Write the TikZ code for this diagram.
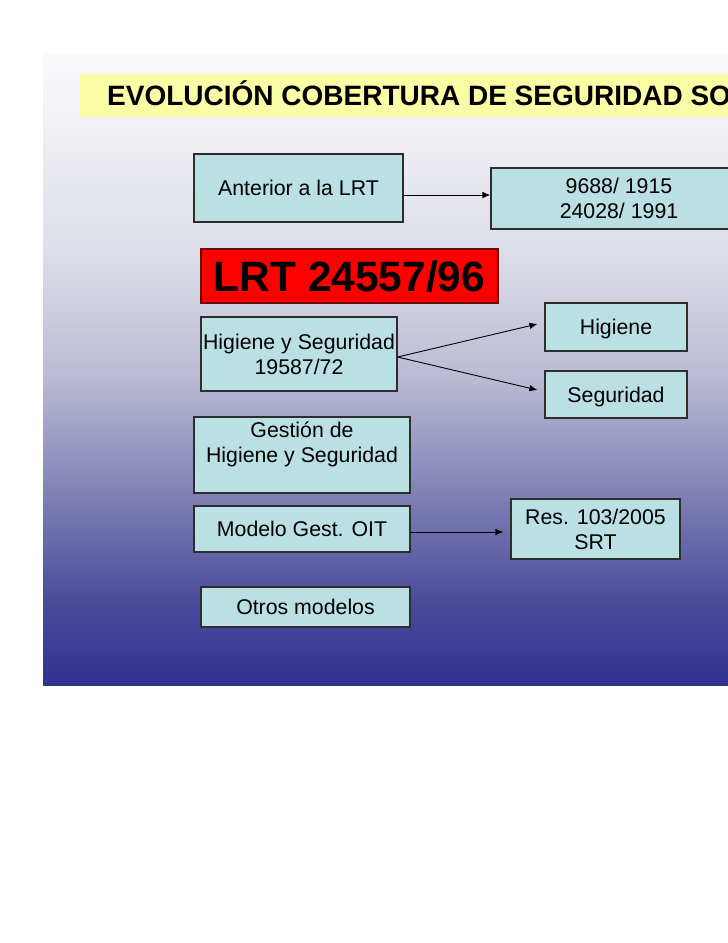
\documentclass[tikz,border=0pt]{standalone}
\usepackage{fontspec}
\setmainfont{Liberation Sans}
\usetikzlibrary{arrows.meta}
\definecolor{cajafill}{RGB}{187,224,227}
\definecolor{cajaline}{RGB}{45,45,45}
\definecolor{titulofill}{RGB}{250,252,166}
\definecolor{lrtred}{RGB}{255,0,0}
\definecolor{lrtline}{RGB}{110,10,10}
\definecolor{fondoA}{RGB}{250,250,252}
\definecolor{fondoB}{RGB}{222,222,232}
\definecolor{fondoC}{RGB}{185,185,212}
\definecolor{fondoD}{RGB}{135,135,185}
\definecolor{fondoE}{RGB}{75,75,155}
\definecolor{fondoF}{RGB}{50,50,145}
\pgfdeclareverticalshading{fondo}{100bp}{color(0bp)=(fondoF); color(25bp)=(fondoF);
 color(31.7bp)=(fondoE); color(41.2bp)=(fondoD); color(49.1bp)=(fondoC);
 color(59.4bp)=(fondoB); color(75bp)=(fondoA); color(100bp)=(fondoA)}
\newcommand\cajafont{\fontsize{21.3}{25}\selectfont}
\tikzset{caja/.style={draw=cajaline,fill=cajafill,line width=1.1pt,inner sep=0pt,
  align=center,font=\cajafont},
 cajauna/.style={caja,text height=15.3pt,text depth=0pt},
 flecha/.style={-{Latex[length=8pt,width=6.5pt]},line width=0.9pt}}

\begin{document}
\begin{tikzpicture}[x=1pt,y=-1pt]
\clip (0,0) rectangle (728,943);
\fill[white] (0,0) rectangle (728,943);
\shade[shading=fondo] (43,53) rectangle (728,685);
\node[fill=titulofill,anchor=west,inner xsep=27pt,inner ysep=11.5pt,
  text height=20pt,text depth=0pt,font=\fontsize{28}{30}\selectfont\bfseries]
  (titulo) at (80,95.5) {EVOLUCIÓN COBERTURA DE SEGURIDAD SO};
\node[cajauna,minimum width=209pt,minimum height=68pt] (ant) at (298.5,188) {Anterior a la LRT};
\node[caja,minimum width=256pt,minimum height=61pt] (ley) at (619,198.5) {9688/ 1915\\24028/ 1991};
\node[cajauna,fill=lrtred,draw=lrtline,font=\fontsize{42.4}{44}\selectfont\bfseries,
  text height=30.4pt,minimum width=297pt,minimum height=54pt] (lrt) at (349.5,276) {LRT 24557/96};
\node[caja,minimum width=196pt,minimum height=74pt] (hys) at (299,354) {Higiene y Seguridad\\19587/72};
\node[cajauna,minimum width=142pt,minimum height=48pt] (hig) at (616,327) {Higiene};
\node[cajauna,minimum width=142pt,minimum height=47pt] (seg) at (616,394.5) {Seguridad};
\node[caja,minimum width=216pt,minimum height=76pt] (ges) at (302,455) {Gestión de\\Higiene y Seguridad\\\mbox{}};
\node[cajauna,minimum width=216pt,minimum height=46pt] (oit) at (302,529) {Modelo Gest. OIT};
\node[caja,minimum width=169pt,minimum height=60pt] (res) at (595.5,529) {Res. 103/2005\\SRT};
\node[cajauna,minimum width=209pt,minimum height=40pt] (otros) at (305.5,607) {Otros modelos};
\draw[flecha] ([yshift=-7pt]ant.east) -- ([yshift=3.5pt]ley.west);
\draw[flecha] ([yshift=-3pt]hys.east) -- ([xshift=-7pt,yshift=3pt]hig.west);
\draw[flecha] ([yshift=-3pt]hys.east) -- ([xshift=-7pt,yshift=4.5pt]seg.west);
\draw[flecha] ([yshift=-3pt]oit.east) -- ([xshift=-7pt,yshift=-3pt]res.west);
\end{tikzpicture}
\end{document}
